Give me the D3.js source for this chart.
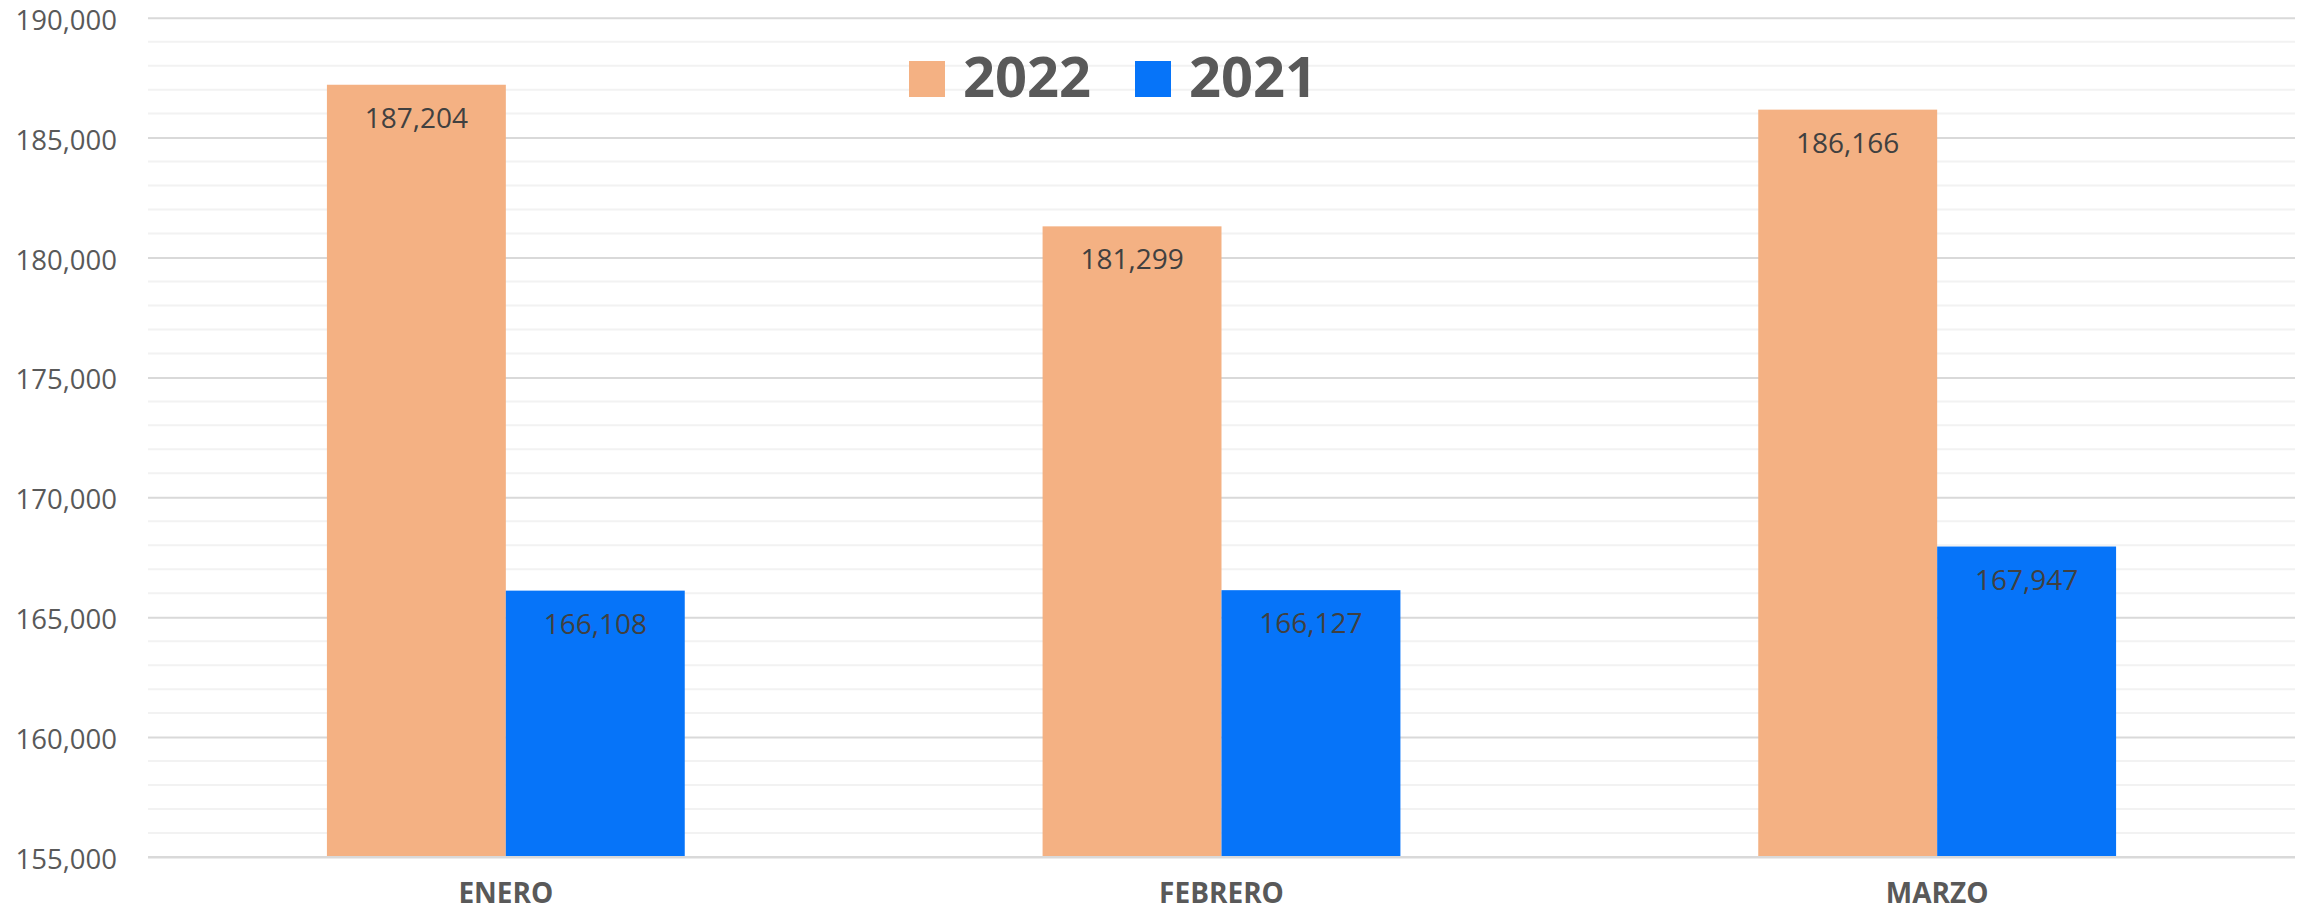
<!DOCTYPE html>
<html>
<head>
<meta charset="utf-8">
<script src="https://cdn.jsdelivr.net/npm/d3@7"></script>
<style>
  html, body { margin: 0; padding: 0; background: #fff; }
  text { font-family: "Open Sans", "DejaVu Sans", sans-serif; }
</style>
</head>
<body>
<div id="chart"></div>
<script>
// data
const months = ["ENERO", "FEBRERO", "MARZO"];
const seriesNames = ["2022", "2021"];
const values2022 = [187204, 181299, 186166];
const values2021 = [166108, 166127, 167947];
const yTicks = [155000, 160000, 165000, 170000, 175000, 180000, 185000, 190000];
const colors = ["#F4B183", "#0674F9"];

const width = 2308, height = 913;
const margin = {top: 17.7, right: 13, bottom: 56, left: 148};
const innerW = width - margin.left - margin.right;
const innerH = height - margin.top - margin.bottom;

const svg = d3.select("#chart").append("svg")
    .attr("width", width)
    .attr("height", height);

const g = svg.append("g")
    .attr("transform", "translate(" + margin.left + "," + margin.top + ")");

const yScale = d3.scaleLinear().domain([155000, 190000]).range([innerH, 0]);
const xScale = d3.scaleBand().domain(months).range([0, innerW])
    .paddingInner(0.5).paddingOuter(0.25);
const xSub = d3.scaleBand().domain(seriesNames).range([0, xScale.bandwidth()]);

// minor gridlines every 1,000
g.append("g").selectAll("line")
    .data(d3.range(156000, 190000, 1000).filter(v => v % 5000 !== 0))
    .join("line")
    .attr("x1", 0).attr("x2", innerW)
    .attr("y1", d => yScale(d)).attr("y2", d => yScale(d))
    .attr("stroke", "#f2f2f2").attr("stroke-width", 2);

// major gridlines + labels
const yAxis = d3.axisLeft(yScale)
    .tickValues(yTicks)
    .tickFormat(d3.format(","))
    .tickSize(-innerW)
    .tickPadding(31);
const yAxisG = g.append("g").attr("class", "yAxisG").call(yAxis);
yAxisG.select(".domain").remove();
yAxisG.selectAll(".tick line").attr("stroke", "#d9d9d9").attr("stroke-width", 2);
yAxisG.selectAll(".tick text")
    .attr("fill", "#595959")
    .attr("dy", "0.42em")
    .style("font-size", "27.5px");

// bars
const rows = months.map((m, i) => ({month: m, vals: [
    {key: "2022", value: values2022[i]},
    {key: "2021", value: values2021[i]}
]}));

const groups = g.selectAll(".monthG")
    .data(rows)
    .join("g")
    .attr("class", "monthG")
    .attr("transform", d => "translate(" + xScale(d.month) + ",0)");

groups.selectAll("rect")
    .data(d => d.vals)
    .join("rect")
    .attr("x", d => xSub(d.key))
    .attr("y", d => yScale(d.value))
    .attr("width", xSub.bandwidth())
    .attr("height", d => innerH - yScale(d.value))
    .attr("fill", (d, i) => colors[i]);

groups.selectAll(".valLabel")
    .data(d => d.vals)
    .join("text")
    .attr("class", "valLabel")
    .attr("x", d => xSub(d.key) + xSub.bandwidth() / 2)
    .attr("y", d => yScale(d.value) + 43)
    .attr("text-anchor", "middle")
    .attr("fill", "#404040")
    .style("font-size", "28px")
    .text(d => d3.format(",")(d.value));

// x axis baseline
g.append("line")
    .attr("x1", 0).attr("x2", innerW)
    .attr("y1", innerH).attr("y2", innerH)
    .attr("stroke", "#d9d9d9").attr("stroke-width", 2);

const xAxisG = g.append("g").attr("class", "xAxisG")
    .attr("transform", "translate(0," + innerH + ")")
    .call(d3.axisBottom(xScale).tickSize(0).tickPadding(26));
xAxisG.select(".domain").remove();
xAxisG.selectAll(".tick text")
    .attr("fill", "#595959")
    .style("font-size", "28px")
    .style("font-weight", "bold");

// legend
const legendX = [909, 1135];
const legend = svg.append("g").selectAll("g")
    .data(seriesNames)
    .join("g")
    .attr("transform", (d, i) => "translate(" + legendX[i] + ",61)");
legend.append("rect")
    .attr("width", 36).attr("height", 36)
    .attr("fill", (d, i) => colors[i]);
legend.append("text")
    .attr("x", 54).attr("y", 36)
    .attr("fill", "#595959")
    .style("font-size", "56px")
    .style("font-weight", "bold")
    .text(d => d);
</script>
</body>
</html>
